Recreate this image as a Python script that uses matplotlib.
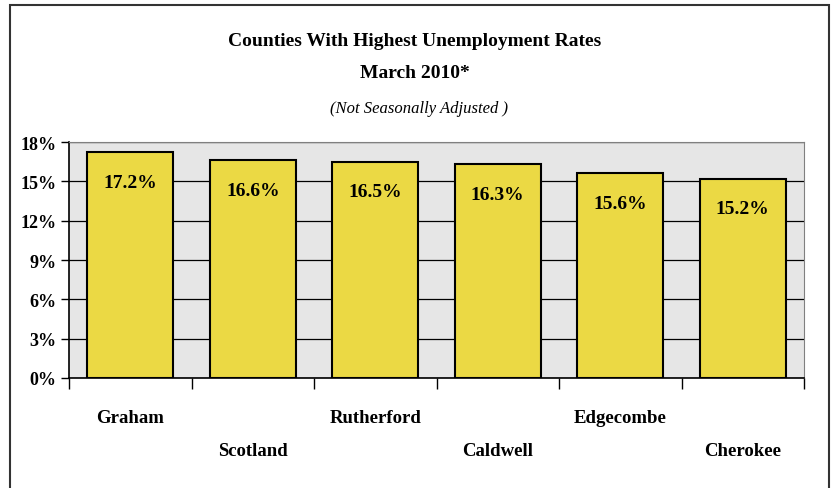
import numpy as np
import matplotlib
matplotlib.use("Agg")
import matplotlib.pyplot as plt
from matplotlib.patches import Rectangle

# chart data
counties = ["Graham", "Scotland", "Rutherford", "Caldwell", "Edgecombe", "Cherokee"]
rates = [17.2, 16.6, 16.5, 16.3, 15.6, 15.2]
yTicks = [0, 3, 6, 9, 12, 15, 18]

plt.rcParams['font.family'] = ['Liberation Serif', 'DejaVu Serif']

fig = plt.figure(figsize=(8.33, 4.89), dpi=100)
fig.patch.set_facecolor('white')

# outer frame around the whole chart
frame = Rectangle((10 / 833, -0.05), (829 - 10) / 833, 1.05 - 6 / 489,
                  transform=fig.transFigure, fill=False, edgecolor='#333333',
                  linewidth=1.5)
fig.add_artist(frame)

ax = fig.add_axes([69 / 833, 110 / 489, (804 - 69) / 833, (379 - 143) / 489])
ax.set_facecolor('#e6e6e6')

xPos = np.arange(len(counties))
ax.bar(xPos, rates, width=0.7, color='#ebd944', edgecolor='black',
       linewidth=1.5, zorder=3)

# value labels inside the bars
for x, r in zip(xPos, rates):
    ax.text(x, r - 2.3, "%.1f%%" % r, ha='center', va='center',
            fontsize=14, fontweight='bold', zorder=4)

ax.set_xlim(-0.5, len(counties) - 0.5)
ax.set_ylim(0, 18)
ax.set_yticks(yTicks)
ax.set_yticklabels(["%d%%" % t for t in yTicks], fontsize=13, fontweight='bold')
ax.yaxis.grid(True, color='black', linewidth=0.9, zorder=1)
ax.set_axisbelow(True)
ax.tick_params(axis='y', length=6, width=1, pad=3)

# category labels, alternating rows
ax.set_xticks(xPos)
ax.set_xticklabels(counties, fontsize=13.5, fontweight='bold')
ax.tick_params(axis='x', which='major', length=0)
for i, tick in enumerate(ax.xaxis.get_major_ticks()):
    tick.set_pad(22 if i % 2 == 0 else 46)
ax.set_xticks(np.arange(-0.5, len(counties)), minor=True)
ax.tick_params(axis='x', which='minor', length=8, width=1, direction='out')

ax.spines['top'].set_color('#808080')
ax.spines['right'].set_color('#808080')
ax.spines['left'].set_linewidth(1.2)
ax.spines['bottom'].set_linewidth(1.2)

fig.text(0.498, 1 - 42 / 489, "Counties With Highest Unemployment Rates",
         ha='center', va='center', fontsize=14, fontweight='bold')
fig.text(0.498, 1 - 74 / 489, "March 2010*",
         ha='center', va='center', fontsize=14, fontweight='bold')
fig.text(0.503, 1 - 109 / 489, "(Not Seasonally Adjusted )",
         ha='center', va='center', fontsize=12, fontstyle='italic')

fig.savefig("out.png", dpi=100)
